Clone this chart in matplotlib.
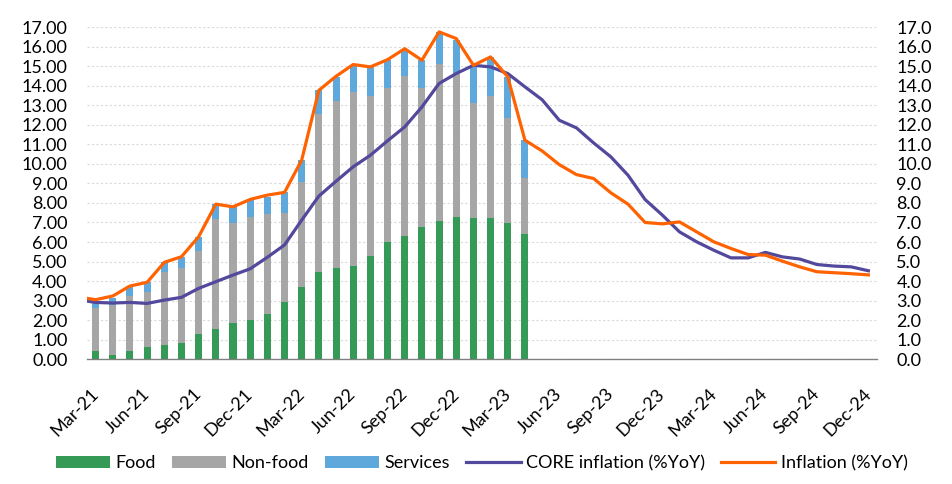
import numpy as np
import matplotlib.pyplot as plt
import matplotlib.ticker as mticker

plt.rcParams['font.family'] = ['Lato', 'DejaVu Sans']

# Line series start one month before the axis (Feb-21) so the first segment is clipped
line_months = ["Feb-21",
               "Mar-21", "Apr-21", "May-21", "Jun-21", "Jul-21", "Aug-21", "Sep-21", "Oct-21", "Nov-21", "Dec-21",
               "Jan-22", "Feb-22", "Mar-22", "Apr-22", "May-22", "Jun-22", "Jul-22", "Aug-22", "Sep-22", "Oct-22",
               "Nov-22", "Dec-22", "Jan-23", "Feb-23", "Mar-23", "Apr-23", "May-23", "Jun-23", "Jul-23", "Aug-23",
               "Sep-23", "Oct-23", "Nov-23", "Dec-23", "Jan-24", "Feb-24", "Mar-24", "Apr-24", "May-24", "Jun-24",
               "Jul-24", "Aug-24", "Sep-24", "Oct-24", "Nov-24", "Dec-24"]
months = line_months[1:]

food = [0.44, 0.20, 0.44, 0.65, 0.72, 0.82, 1.28, 1.57, 1.84, 2.03, 2.33, 2.91, 3.68,
        4.45, 4.65, 4.79, 5.26, 5.98, 6.29, 6.75, 7.10, 7.26, 7.21, 7.21, 6.95, 6.39]
non_food = [2.17, 2.60, 2.80, 2.77, 3.74, 3.83, 4.26, 5.60, 5.11, 5.23, 5.10, 4.60, 5.38,
            8.09, 8.57, 8.87, 8.20, 7.89, 8.19, 7.12, 8.01, 7.39, 5.91, 6.25, 5.42, 2.88]
services = [0.34, 0.35, 0.51, 0.52, 0.50, 0.56, 0.73, 0.77, 0.85, 0.92, 0.88, 1.04, 1.13,
            1.22, 1.23, 1.38, 1.50, 1.46, 1.41, 1.46, 1.64, 1.70, 1.92, 2.01, 2.08, 1.94]

core = [3.05,
        2.91, 2.88, 2.91, 2.86, 3.03, 3.17, 3.63, 3.97, 4.31, 4.63,
        5.22, 5.85, 7.12, 8.35, 9.11, 9.85, 10.44, 11.18, 11.89, 12.91,
        14.11, 14.62, 15.04, 14.96, 14.62, 13.94, 13.28, 12.23, 11.84, 11.07,
        10.36, 9.42, 8.17, 7.38, 6.52, 6.01, 5.58, 5.19, 5.19, 5.47,
        5.24, 5.13, 4.85, 4.77, 4.73, 4.53]
inflation = [3.19,
             3.05, 3.24, 3.75, 3.94, 4.96, 5.25, 6.27, 7.94, 7.80, 8.18,
             8.40, 8.54, 10.19, 13.76, 14.48, 15.08, 14.96, 15.33, 15.89, 15.30,
             16.75, 16.41, 15.04, 15.47, 14.45, 11.21, 10.66, 9.96, 9.45, 9.25,
             8.52, 7.94, 7.00, 6.93, 7.03, 6.52, 6.01, 5.67, 5.36, 5.33,
             5.02, 4.73, 4.48, 4.43, 4.38, 4.32]

x_bar = np.arange(len(food))
x_line = np.arange(len(line_months)) - 1

fig = plt.figure(figsize=(9.52, 4.84), dpi=100)
ax = fig.add_axes([0.0914, 0.2576, 0.8298, 0.6866])

w = 0.41
b1 = ax.bar(x_bar, food, w, color="#349A55", label="Food")
b2 = ax.bar(x_bar, non_food, w, bottom=food, color="#A6A6A6", label="Non-food")
b3 = ax.bar(x_bar, services, w, bottom=np.array(food) + np.array(non_food),
            color="#5FA8DC", label="Services")

ax.set_xlim(-0.5, len(months) - 0.5)
ax.set_ylim(0, 17)
ax.set_yticks(np.arange(0, 18, 1))
ax.yaxis.set_major_formatter(mticker.FormatStrFormatter('%.2f'))
ax.grid(axis='y', color='#D9D9D9', linestyle=(0, (2, 2)), linewidth=0.8)
ax.set_axisbelow(True)

for s in ['top', 'left', 'right']:
    ax.spines[s].set_visible(False)
ax.spines['bottom'].set_color('#808080')
ax.spines['bottom'].set_linewidth(1)

tick_pos = list(range(0, len(months), 3))
ax.set_xticks(tick_pos)
ax.set_xticklabels([months[i] for i in tick_pos], rotation=45, ha='right',
                   va='center', rotation_mode='anchor', fontsize=13)
ax.tick_params(axis='x', length=0, pad=23)
ax.tick_params(axis='y', length=0, pad=14, labelsize=13)

ax2 = ax.twinx()
ax2.set_ylim(0, 17)
ax2.set_yticks(np.arange(0, 18, 1))
ax2.yaxis.set_major_formatter(mticker.FormatStrFormatter('%.1f'))
ax2.tick_params(axis='y', length=0, pad=14, labelsize=13)
for s in ax2.spines.values():
    s.set_visible(False)

l1, = ax2.plot(x_line, core, color="#52489C", linewidth=2.3, label="CORE inflation (%YoY)")
l2, = ax2.plot(x_line, inflation, color="#FF6200", linewidth=2.3, label="Inflation (%YoY)")
ax2.set_xlim(-0.5, len(months) - 0.5)

fig.legend([b1, b2, b3, l1, l2],
           ["Food", "Non-food", "Services", "CORE inflation (%YoY)", "Inflation (%YoY)"],
           loc='center', bbox_to_anchor=(0.506, 0.043), ncol=5, frameon=False,
           fontsize=13, handlelength=3.0, handletextpad=0.3, columnspacing=0.9)

fig.savefig("out.png", dpi=100)
